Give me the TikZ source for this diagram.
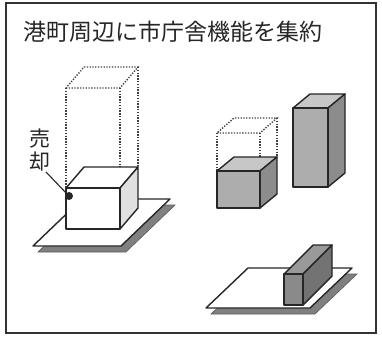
\documentclass[tikz,border=0pt]{standalone}
\usepackage{fontspec}
\newfontfamily\jp{Noto Sans CJK JP}
\begin{document}
\begin{tikzpicture}[x=1pt,y=-1pt,
  edge/.style={draw=black!85, line width=1.4pt, line join=round},
  ghost/.style={draw=black!75, line width=1.4pt, dash pattern=on 1.3pt off 1.5pt},
  platebox/.style={edge, fill=white},
  shadowbox/.style={fill=black!50, draw=black!65, line width=0.6pt},
  lbl/.style={inner sep=0pt, font=\jp\fontsize{21}{21}\selectfont, text=black!85}]
\useasboundingbox (0,0) rectangle (382,338);
% frame
\draw[line width=2pt, draw=black!80] (6,3) rectangle (376,333);
% title
\node[anchor=base west, inner sep=0pt, font=\jp\fontsize{23}{23}\selectfont, text=black!85]
  (title) at (23,40) {港町周辺に市庁舎機能を集約};

% ---- left: current building on its site ----
\fill[shadowbox] (38,252) -- (126,252) -- (175,205) -- (87,205) -- cycle;
\draw[platebox] (33,246) -- (121,246) -- (170,199) -- (82,199) -- cycle;
% outline of the old tower
\draw[ghost] (66,88) -- (120,88) -- (138,67) -- (84,67) -- cycle;
\draw[ghost] (66,88) -- (66,188);
\draw[ghost] (120,88) -- (120,188);
\draw[ghost] (138,67) -- (138,167);
% remaining low block
\draw[edge, fill=white] (66,188) -- (120,188) -- (138,167) -- (84,167) -- cycle;
\draw[edge, fill=black!12] (120,188) -- (138,167) -- (138,208) -- (120,229) -- cycle;
\draw[edge, fill=white] (66,188) rectangle (120,229);
% sale marker
\node[circle, fill=black!85, inner sep=0pt, minimum size=8pt] (dot) at (69,196) {};
\node[lbl] (sell1) at (40,139) {売};
\node[lbl] (sell2) at (40,162) {却};
\coordinate (lead) at (46,172);
\draw[black!85, line width=1.1pt] (lead) -- (dot.center);

% ---- upper right: reduced block and new tower ----
\draw[ghost] (217,133) -- (260,133) -- (277,118) -- (234,118) -- cycle;
\draw[ghost] (217,133) -- (217,171);
\draw[ghost] (260,133) -- (260,171);
\draw[ghost] (277,118) -- (277,157);
\draw[edge, fill=black!22] (217,171) -- (260,171) -- (277,157) -- (234,157) -- cycle;
\draw[edge, fill=black!45] (260,171) -- (277,157) -- (277,194) -- (260,208) -- cycle;
\draw[edge, fill=black!32] (217,171) rectangle (260,208);

\draw[edge, fill=black!22] (293,108) -- (328,108) -- (345,94) -- (310,94) -- cycle;
\draw[edge, fill=black!45] (328,108) -- (345,94) -- (345,173) -- (328,187) -- cycle;
\draw[edge, fill=black!32] (293,108) rectangle (328,187);

% ---- lower right: new site with slim building ----
\fill[shadowbox] (211,314) -- (315,314) -- (357,274) -- (253,274) -- cycle;
\draw[platebox] (206,308) -- (310,308) -- (352,268) -- (248,268) -- cycle;
\draw[edge, fill=black!40] (284,274) -- (303,274) -- (332,245) -- (313,245) -- cycle;
\draw[edge, fill=black!55] (303,274) -- (332,245) -- (332,276) -- (303,305) -- cycle;
\draw[edge, fill=black!46] (284,274) rectangle (303,305);
\end{tikzpicture}
\end{document}
